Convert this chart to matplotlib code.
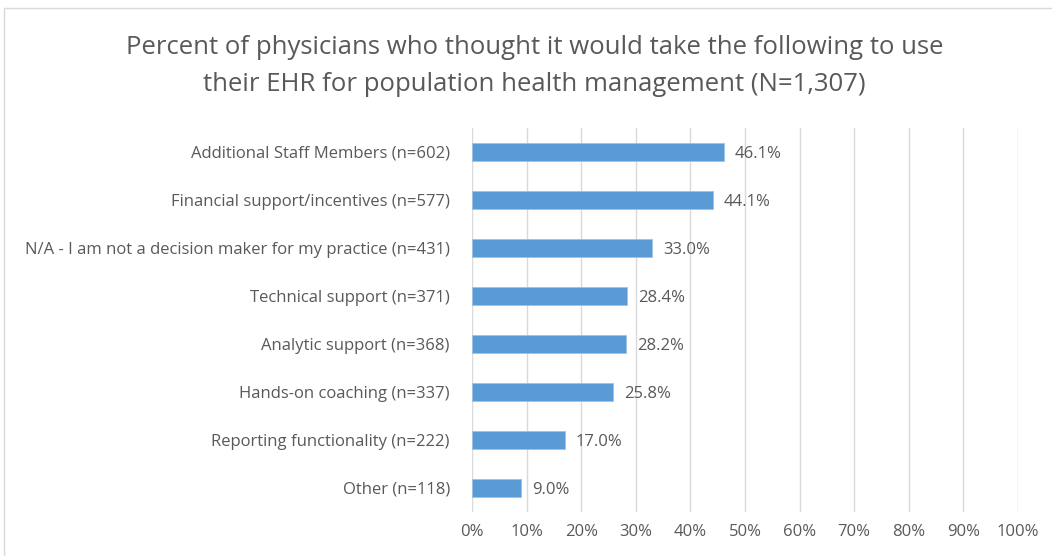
import matplotlib.pyplot as plt
from matplotlib.patches import Rectangle
from matplotlib.ticker import PercentFormatter

categories = [
    "Additional Staff Members (n=602)",
    "Financial support/incentives (n=577)",
    "N/A - I am not a decision maker for my practice (n=431)",
    "Technical support (n=371)",
    "Analytic support (n=368)",
    "Hands-on coaching (n=337)",
    "Reporting functionality (n=222)",
    "Other (n=118)",
]
percents = [46.1, 44.1, 33.0, 28.4, 28.2, 25.8, 17.0, 9.0]
title = ("Percent of physicians who thought it would take the following to use\n"
         "their EHR for population health management (N=1,307)")

plt.rcParams['font.family'] = ['Open Sans', 'DejaVu Sans']
txt = '#595959'

fig = plt.figure(figsize=(10.52, 5.56), dpi=100)
ax = fig.add_axes([472 / 1052, 44 / 556, 546 / 1052, 384 / 556])

y = range(len(categories))
ax.barh(y, percents, height=0.36, color='#5b9bd5', edgecolor='#9dc3e6', linewidth=0.6, zorder=3)
for i, v in zip(y, percents):
    ax.text(v + 2.0, i + 0.05, f"{v:.1f}%", va='center', ha='left', fontsize=12, color=txt)

ax.set_xlim(0, 100)
ax.set_ylim(7.5, -0.5)
ax.set_xticks(range(0, 101, 10))
ax.xaxis.set_major_formatter(PercentFormatter(decimals=0))
ax.set_yticks(list(y))
ax.set_yticklabels(categories)
ax.tick_params(axis='both', length=0, labelsize=12, labelcolor=txt)
ax.tick_params(axis='x', pad=9)
ax.tick_params(axis='y', pad=16)
ax.grid(axis='x', color='#d9d9d9', linewidth=1, zorder=0)
for s in ax.spines.values():
    s.set_visible(False)

fig.text(0.508, 1 - 66 / 556, title, ha='center', va='center', fontsize=18.5, color=txt, linespacing=1.6)

fig.patches.append(Rectangle((4 / 1052, -0.01), 1.02, 1 - 8 / 556 + 0.01, transform=fig.transFigure,
                             fill=False, edgecolor='#d9d9d9', linewidth=1))

fig.savefig('out.png', dpi=100)
